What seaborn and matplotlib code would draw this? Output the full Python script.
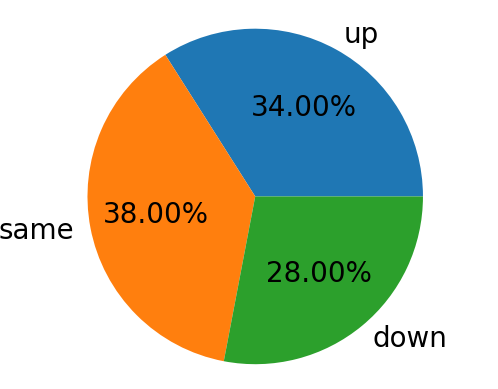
import matplotlib
matplotlib.use("Agg")
import matplotlib.pyplot as plt
import seaborn as sns

# data
labels = ["up", "same", "down"]
shares = [34, 38, 28]

colors = sns.color_palette("tab10", 3)

fig, ax = plt.subplots(figsize=(4.98, 3.89), dpi=100)
ax.pie(shares, labels=labels, colors=colors, autopct="%.2f%%",
       radius=1.4, textprops={"fontsize": 20})
plt.savefig("out.png")
plt.close()
